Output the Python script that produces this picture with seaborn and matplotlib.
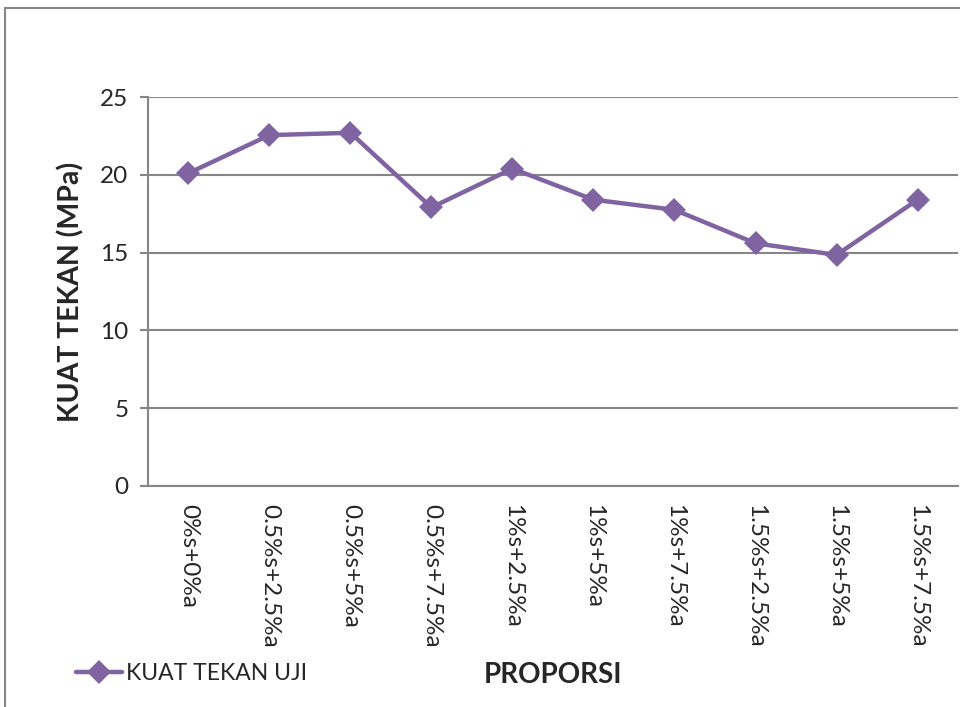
import matplotlib
matplotlib.use("Agg")
import matplotlib.pyplot as plt
import seaborn as sns
import pandas as pd
from matplotlib.patches import Rectangle
from matplotlib.lines import Line2D

# data
proporsi = ["0%s+0%a", "0.5%s+2.5%a", "0.5%s+5%a", "0.5%s+7.5%a", "1%s+2.5%a",
            "1%s+5%a", "1%s+7.5%a", "1.5%s+2.5%a", "1.5%s+5%a", "1.5%s+7.5%a"]
kuat_tekan = [20.1, 22.55, 22.7, 17.9, 20.4, 18.4, 17.75, 15.6, 14.85, 18.4]

df = pd.DataFrame({"proporsi": proporsi, "kuat": kuat_tekan})

sns.set_theme(style="white")
plt.rcParams["font.family"] = ["Lato", "DejaVu Sans"]

purple = "#8064A2"
grid_c = "#868686"

fig = plt.figure(figsize=(9.6, 7.07), dpi=100)
ax = fig.add_axes([0.154, 0.3126, 0.844, 0.5502])

sns.lineplot(data=df, x="proporsi", y="kuat", sort=False, color=purple,
             linewidth=3.2, marker="D", markersize=12, markeredgewidth=0, ax=ax)

ax.set_xlim(-0.5, len(proporsi) - 0.5)
ax.set_ylim(0, 25)
ax.set_yticks([0, 5, 10, 15, 20, 25])
ax.yaxis.grid(True, color=grid_c, linewidth=1.5)
ax.set_axisbelow(True)
for s in ["top", "right"]:
    ax.spines[s].set_visible(False)
for s in ["left", "bottom"]:
    ax.spines[s].set_color(grid_c)
    ax.spines[s].set_linewidth(1.5)

ax.tick_params(axis="y", length=6, width=1.5, color=grid_c, left=True,
               labelsize=17.5, pad=8)
ax.tick_params(axis="x", length=0, labelsize=17.5, pad=13)
plt.setp(ax.get_xticklabels(), rotation=-90, va="top", ha="center")

ax.set_xlabel("")
ax.set_ylabel("KUAT TEKAN (MPa)", fontsize=20.5, fontweight="bold", labelpad=11)

fig.text(0.576, 0.045, "PROPORSI", fontsize=20, fontweight="bold",
         ha="center", va="center")

# legend at bottom left
handle = Line2D([], [], color=purple, linewidth=3.2, marker="D", markersize=12,
                markeredgewidth=0)
fig.legend([handle], ["KUAT TEKAN UJI"], loc="center left",
           bbox_to_anchor=(0.07, 0.048), frameon=False, fontsize=16.5,
           handlelength=2.0, handletextpad=0.15, borderaxespad=0)

# outer chart border
fig.patches.append(Rectangle((0.005, -0.05), 1.2, 1.039,
                             transform=fig.transFigure, fill=False,
                             edgecolor=grid_c, linewidth=1.5))

fig.savefig("out.png", dpi=100)
